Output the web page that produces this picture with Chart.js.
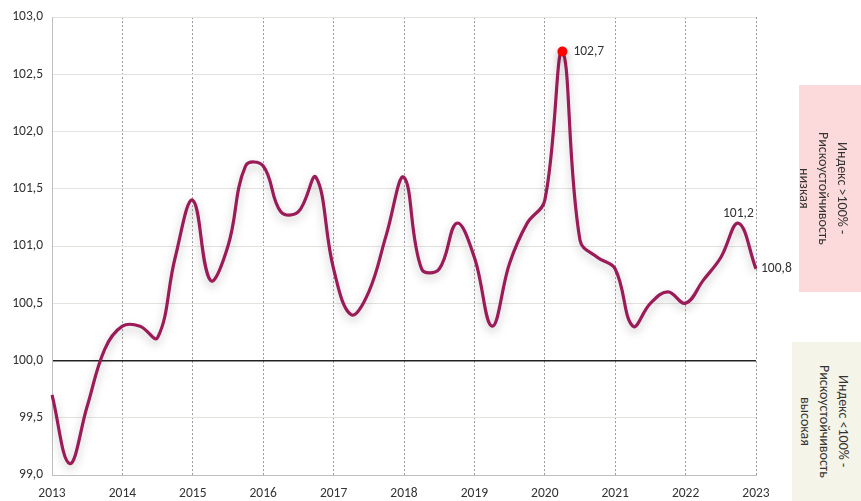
<!DOCTYPE html>
<html>
<head>
<meta charset="utf-8">
<script src="https://cdn.jsdelivr.net/npm/chart.js@4/dist/chart.umd.min.js"></script>
<style>
  html, body { margin: 0; padding: 0; background: #fff; }
  #wrap { position: relative; width: 861px; height: 501px; overflow: hidden; font-family: Carlito, Calibri, "Open Sans", sans-serif; }
  .side { position: absolute; display: flex; align-items: center; justify-content: center; }
  .side span { writing-mode: vertical-rl; text-align: center; font-size: 14px; line-height: 19px; color: #333; }
  #high { left: 799px; top: 85px; width: 62px; height: 207px; background: #fcd9da; padding-right: 14px; box-sizing: border-box; }
  #low { left: 792px; top: 342px; width: 69px; height: 159px; background: #f4f4e8; padding-right: 4px; box-sizing: border-box; }
</style>
</head>
<body>
<div id="wrap">
  <canvas id="riskChart" width="861" height="501"></canvas>
  <div class="side" id="high"><span>Индекс &gt;100% -<br>Рискоустойчивость<br>низкая</span></div>
  <div class="side" id="low"><span>Индекс &lt;100% -<br>Рискоустойчивость<br>высокая</span></div>
</div>
<script>
const years = ['2013', '2014', '2015', '2016', '2017', '2018', '2019', '2020', '2021', '2022', '2023'];
const yTicks = [99.0, 99.5, 100.0, 100.5, 101.0, 101.5, 102.0, 102.5, 103.0];
const indexValues = [
    99.7, 99.1, 99.6, 100.1,
    100.3, 100.3, 100.2, 100.9,
    101.4, 100.7, 101.0, 101.7,
    101.7, 101.3, 101.3, 101.6,
    100.8, 100.4, 100.6, 101.1,
    101.6, 100.8, 100.8, 101.2,
    100.9, 100.3, 100.85, 101.2,
    101.4, 102.7, 101.05, 100.9,
    100.8, 100.3, 100.5, 100.6,
    100.5, 100.7, 100.9, 101.2,
    100.8
];
const shownLabels = { 29: 'right', 39: 'top', 40: 'right' };

// quarterly categories, only the first quarter of each year gets a tick
const quarters = [];
years.forEach((y, i) => {
    if (i === years.length - 1) { quarters.push(y); return; }
    for (let q = 1; q <= 4; q++) quarters.push(q === 1 ? y : y + ' Q' + q);
});

const fmt = v => v.toFixed(1).replace('.', ',');
const FONT = 'Carlito, Calibri, "Open Sans", sans-serif';

const lineShadow = {
    id: 'lineShadow',
    beforeDatasetDraw(chart) {
        const ctx = chart.ctx;
        ctx.save();
        ctx.shadowColor = 'rgba(0,0,0,0.25)';
        ctx.shadowBlur = 10;
        ctx.shadowOffsetY = 4;
    },
    afterDatasetDraw(chart) { chart.ctx.restore(); }
};

const valueLabels = {
    id: 'valueLabels',
    afterDatasetsDraw(chart) {
        const ctx = chart.ctx;
        const meta = chart.getDatasetMeta(0);
        ctx.save();
        ctx.font = '13.5px ' + FONT;
        ctx.fillStyle = '#333';
        Object.keys(shownLabels).forEach(k => {
            const p = meta.data[k];
            const txt = fmt(indexValues[k]);
            if (shownLabels[k] === 'right') {
                ctx.textAlign = 'left'; ctx.textBaseline = 'middle';
                ctx.fillText(txt, p.x + (k == 40 ? 5 : 11), p.y);
            } else {
                ctx.textAlign = 'center'; ctx.textBaseline = 'bottom';
                ctx.fillText(txt, p.x, p.y - 3);
            }
        });
        ctx.restore();
    }
};

const ctx = document.getElementById('riskChart').getContext('2d');
new Chart(ctx, {
    type: 'line',
    data: {
        labels: quarters,
        datasets: [{
            data: indexValues,
            borderColor: '#9b1b58',
            borderWidth: 3.2,
            tension: 0.4,
            fill: false,
            pointRadius: indexValues.map((v, i) => i === 29 ? 5 : 0),
            pointBackgroundColor: '#ff0000',
            pointBorderColor: '#ff0000',
            pointBorderWidth: 0
        }]
    },
    options: {
        responsive: false,
        animation: false,
        layout: { padding: { top: 17, right: 105, bottom: 0, left: 0 } },
        plugins: { legend: { display: false }, tooltip: { enabled: false } },
        scales: {
            x: {
                offset: false,
                afterFit: s => { s.height = 26; },
                ticks: {
                    autoSkip: false, maxRotation: 0, padding: 11,
                    color: '#333', font: { size: 13.5, family: FONT },
                    callback: function(v) { const l = this.getLabelForValue(v); return years.includes(l) ? l : null; }
                },
                grid: { color: '#9a9a9a', lineWidth: 1, drawTicks: false },
                border: { display: true, color: '#bfbfbf', dash: [2, 2] }
            },
            y: {
                min: 99, max: 103,
                afterFit: s => { s.width = 52; },
                afterBuildTicks: s => { s.ticks = yTicks.map(v => ({ value: v })); },
                ticks: {
                    padding: 9, color: '#333',
                    font: { size: 13.5, family: FONT },
                    callback: v => fmt(v)
                },
                grid: {
                    drawTicks: false,
                    color: c => c.tick && c.tick.value === 100 ? '#222' : '#e3e3de',
                    lineWidth: c => c.tick && c.tick.value === 100 ? 1.5 : 1
                },
                border: { display: true, color: '#bfbfbf' }
            }
        }
    },
    plugins: [lineShadow, valueLabels]
});
</script>
</body>
</html>
